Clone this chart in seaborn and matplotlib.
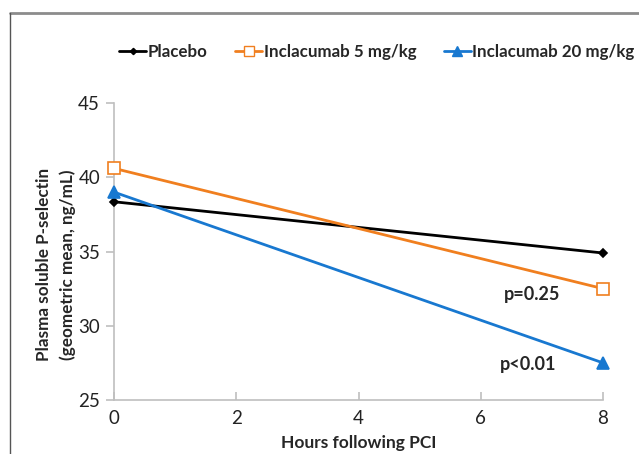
import matplotlib
matplotlib.use("Agg")
import matplotlib.pyplot as plt
import seaborn as sns
import pandas as pd
from matplotlib.lines import Line2D

hours = [0, 8]
placebo = [38.35, 34.9]
incl5 = [40.6, 32.5]
incl20 = [39.0, 27.5]
series_names = ["Placebo", "Inclacumab 5 mg/kg", "Inclacumab 20 mg/kg"]
yticks = [25, 30, 35, 40, 45]
xticks = [0, 2, 4, 6, 8]

rows = []
for name, vals in zip(series_names, [placebo, incl5, incl20]):
    for h, v in zip(hours, vals):
        rows.append({"Hours": h, "Value": v, "Group": name})
df = pd.DataFrame(rows)

sns.set_style("white")
plt.rcParams['font.family'] = ['Lato', 'DejaVu Sans']

colors = {"Placebo": "#000000", "Inclacumab 5 mg/kg": "#F07F1F", "Inclacumab 20 mg/kg": "#1878D0"}
markers = {"Placebo": "D", "Inclacumab 5 mg/kg": "s", "Inclacumab 20 mg/kg": "^"}
msizes = {"Placebo": 4, "Inclacumab 5 mg/kg": 9, "Inclacumab 20 mg/kg": 9}

fig = plt.figure(figsize=(6.39, 4.54), dpi=100)
ax = fig.add_axes([0.1784, 0.1189, 0.7653, 0.6542])

for name in series_names:
    sub = df[df.Group == name]
    c = colors[name]
    face = "white" if name == "Inclacumab 5 mg/kg" else c
    sns.lineplot(data=sub, x="Hours", y="Value", ax=ax, color=c, lw=2,
                 marker=markers[name], markersize=msizes[name],
                 markerfacecolor=face, markeredgecolor=c, markeredgewidth=1.2,
                 legend=False, clip_on=False, zorder=3)

ax.set_xlim(0, 8)
ax.set_ylim(25, 45)
ax.set_xticks(xticks)
ax.set_yticks(yticks)
ax.set_xticklabels([str(t) for t in xticks], fontsize=13.5, color="#222222")
ax.set_yticklabels([str(t) for t in yticks], fontsize=13.5, color="#222222")
for s in ["top", "right"]:
    ax.spines[s].set_visible(False)
for s in ["left", "bottom"]:
    ax.spines[s].set_color("#BFBFBF")
    ax.spines[s].set_linewidth(1.2)
ax.tick_params(axis="y", direction="out", length=6, color="#BFBFBF", width=1.2, pad=4)
ax.tick_params(axis="x", direction="in", length=6, color="#BFBFBF", width=1.2, pad=7)
ax.tick_params(axis="x", bottom=True)
ax.tick_params(axis="y", left=True)

ax.set_xlabel("Hours following PCI", fontsize=12.5, fontweight="bold", labelpad=6)
ax.set_ylabel("Plasma soluble P-selectin\n(geometric mean, ng/mL)", fontsize=12.3,
              fontweight="bold", labelpad=1, linespacing=1.55)
ax.yaxis.set_label_coords(-0.078, 0.455)

ax.text(6.84, 32.1, "p=0.25", fontsize=13, fontweight="bold", ha="center", va="center")
ax.text(6.77, 27.4, "p<0.01", fontsize=13, fontweight="bold", ha="center", va="center")

handles = [Line2D([0], [0], color=colors[n], lw=2, marker=markers[n],
                  markersize=msizes[n] * 0.8,
                  markerfacecolor=("white" if n == "Inclacumab 5 mg/kg" else colors[n]),
                  markeredgecolor=colors[n]) for n in series_names]
leg = fig.legend(handles, series_names, loc="center", bbox_to_anchor=(0.59, 0.886),
                 ncol=3, frameon=False, handlelength=1.6, handletextpad=0.1,
                 columnspacing=1.6, prop={"weight": "bold", "size": 12.2})

# outer frame lines (top and left)
fig.add_artist(Line2D([0.015, 1.0], [0.972, 0.972], transform=fig.transFigure,
                      color="#8C8C8C", lw=2))
fig.add_artist(Line2D([0.015, 0.015], [0.0, 0.972], transform=fig.transFigure,
                      color="#555555", lw=1))

fig.savefig("out.png", dpi=100)
